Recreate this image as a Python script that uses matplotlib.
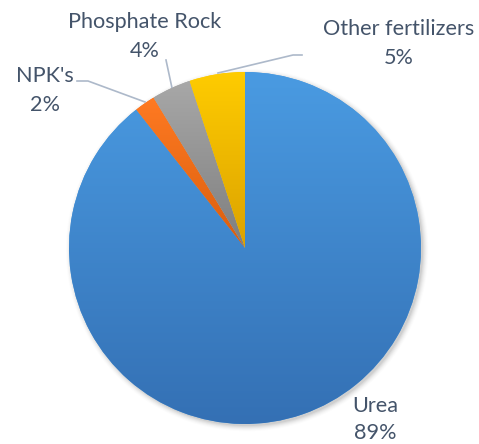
import numpy as np
import matplotlib
matplotlib.use("Agg")
import matplotlib.pyplot as plt
from matplotlib.colors import LinearSegmentedColormap
from matplotlib.patches import Circle

categories = ["Urea", "NPK's", "Phosphate Rock", "Other fertilizers"]
values = [89.4, 1.9, 3.6, 5.1]
top_colors = ["#4A9BE2", "#FF7A22", "#A8A8A8", "#FFCC00"]
bottom_colors = ["#3470B4", "#D95E0E", "#7E7E7E", "#DBA200"]

W, H = 479, 444
cx, cy, R = 245, 248, 176

fig = plt.figure(figsize=(W / 100, H / 100), dpi=100)
ax = fig.add_axes([0, 0, 1, 1])
ax.set_xlim(-cx / R, (W - cx) / R)
ax.set_ylim((cy - H) / R, cy / R)
ax.set_aspect("equal")
ax.axis("off")

def px(x, y):
    return ((x - cx) / R, (cy - y) / R)

# soft shadow
for i, a in enumerate(np.linspace(0.05, 0.012, 6)):
    ax.add_patch(Circle((0.012, -0.012), 1.0 + 0.006 * i, color="black",
                        alpha=a, lw=0, zorder=0))

wedges, _ = ax.pie(values, startangle=90, counterclock=False, radius=1,
                   colors=top_colors, wedgeprops=dict(linewidth=0))
for w, c1, c2 in zip(wedges, top_colors, bottom_colors):
    bb = w.get_path().get_extents(w.get_patch_transform())
    cmap = LinearSegmentedColormap.from_list("g", [c2, c1])
    grad = np.linspace(0, 1, 256).reshape(-1, 1)
    im = ax.imshow(grad, extent=[bb.x0, bb.x1, bb.y0, bb.y1], origin="lower",
                   cmap=cmap, aspect="auto", zorder=2, interpolation="bilinear")
    im.set_clip_path(w)
ax.set_xlim(-cx / R, (W - cx) / R)
ax.set_ylim((cy - H) / R, cy / R)

txt_color = "#44546A"
line_color = "#ADB9CA"
font = "Lato"
fs = 15.6

label_pos = {
    "Urea": (375, 406, 433),
    "NPK's": (45, 76, 105),
    "Phosphate Rock": (145, 22, 51),
    "Other fertilizers": (399, 29, 58),
}
total = sum(values)
for cat, v in zip(categories, values):
    x, y1, y2 = label_pos[cat]
    ax.text(*px(x, y1), cat, ha="center", va="center", fontsize=fs,
            color=txt_color, family=font, zorder=5)
    ax.text(*px(x, y2), f"{round(v / total * 100):d}%", ha="center",
            va="center", fontsize=fs, color=txt_color, family=font, zorder=5)

leaders = [
    [(77, 81), (88, 81), (145, 102)],
    [(166, 60), (172, 88)],
    [(302, 55), (293, 55), (218, 73)],
]
for pts in leaders:
    xs, ys = zip(*[px(a, b) for a, b in pts])
    ax.plot(xs, ys, color=line_color, lw=1.2, zorder=1)

fig.savefig("out.png", dpi=100, facecolor="white")
